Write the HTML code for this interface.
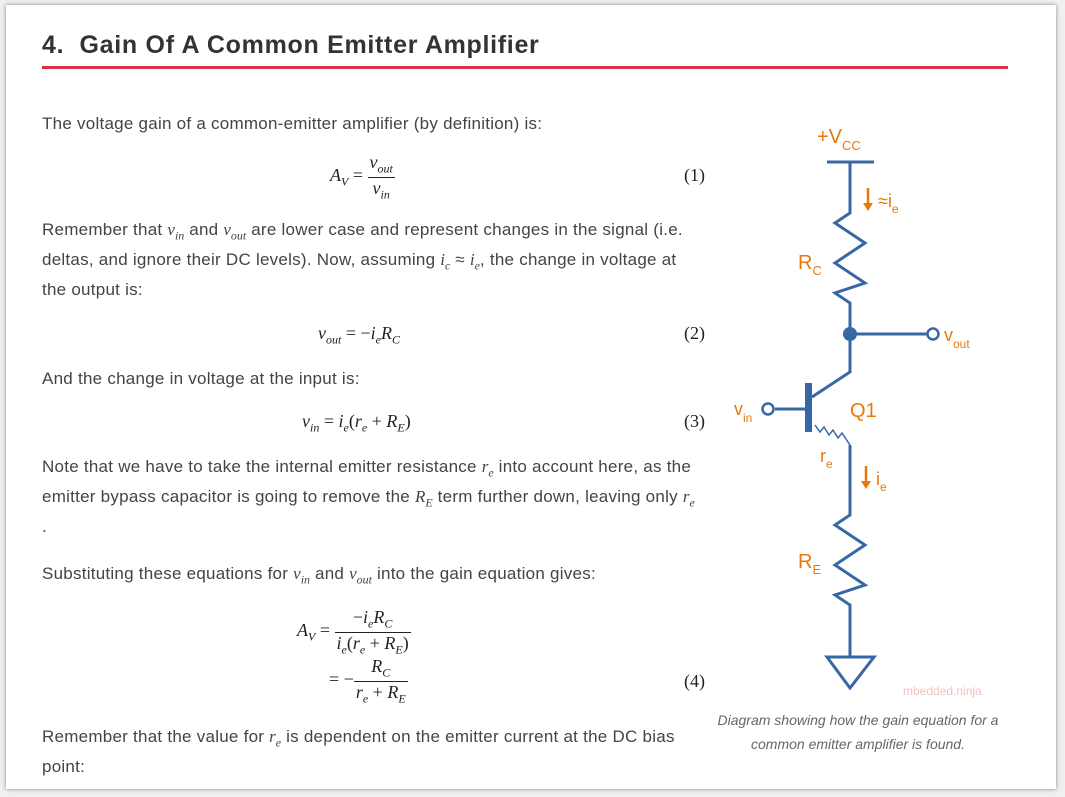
<!DOCTYPE html>
<html><head><meta charset="utf-8"><style>
body{margin:0;width:1065px;height:797px;background:#f0f0f0;position:relative;overflow:hidden;font-family:"Liberation Sans",sans-serif}
.card{position:absolute;left:6px;top:5px;width:1050px;height:784px;background:#fff;box-shadow:0 0 4px rgba(0,0,0,.45)}
.t{position:absolute;color:#444;font-size:17px;letter-spacing:.25px;line-height:28px;white-space:nowrap}
.m{font-family:"Liberation Serif",serif;font-style:italic;font-size:17px;letter-spacing:0}
.eq{position:absolute;font-family:"Liberation Serif",serif;font-size:18px;color:#222;white-space:nowrap}
.n{position:absolute;font-family:"Liberation Serif",serif;font-size:18px;color:#222}
.fr{display:inline-block;vertical-align:middle;text-align:center}
.fr span{display:block;padding:0 2px}
.fr .top{border-bottom:1px solid #222}
i{font-style:italic}
sub{font-size:12px}
</style></head><body>
<div class="card"></div>
<div style="position:absolute;left:42px;top:31px;font-size:25px;letter-spacing:.7px;font-weight:bold;color:#333">4.&nbsp; Gain Of A Common Emitter Amplifier</div>
<div style="position:absolute;left:42px;top:66px;width:966px;height:3px;background:#d6304a"></div>

<div class="t" style="left:42px;top:110px">The voltage gain of a common-emitter amplifier (by definition) is:</div>
<div class="eq" style="left:330px;top:152px"><i>A<sub>V</sub></i> = <span class="fr"><span class="top"><i>v<sub>out</sub></i></span><span><i>v<sub>in</sub></i></span></span></div>
<div class="n" style="left:684px;top:165px">(1)</div>
<div class="t" style="left:42px;top:216px">Remember that <span class="m">v<sub>in</sub></span> and <span class="m">v<sub>out</sub></span> are lower case and represent changes in the signal (i.e.</div>
<div class="t" style="left:42px;top:246px">deltas, and ignore their DC levels). Now, assuming <span class="m">i<sub>c</sub></span> ≈ <span class="m">i<sub>e</sub></span>, the change in voltage at</div>
<div class="t" style="left:42px;top:276px">the output is:</div>
<div class="eq" style="left:318px;top:323px"><i>v<sub>out</sub></i> = −<i>i<sub>e</sub>R<sub>C</sub></i></div>
<div class="n" style="left:684px;top:323px">(2)</div>
<div class="t" style="left:42px;top:365px">And the change in voltage at the input is:</div>
<div class="eq" style="left:302px;top:411px"><i>v<sub>in</sub></i> = <i>i<sub>e</sub></i>(<i>r<sub>e</sub></i> + <i>R<sub>E</sub></i>)</div>
<div class="n" style="left:684px;top:411px">(3)</div>
<div class="t" style="left:42px;top:453px">Note that we have to take the internal emitter resistance <span class="m">r<sub>e</sub></span> into account here, as the</div>
<div class="t" style="left:42px;top:483px">emitter bypass capacitor is going to remove the <span class="m">R<sub>E</sub></span> term further down, leaving only <span class="m">r<sub>e</sub></span></div>
<div class="t" style="left:42px;top:513px">.</div>
<div class="t" style="left:42px;top:560px">Substituting these equations for <span class="m">v<sub>in</sub></span> and <span class="m">v<sub>out</sub></span> into the gain equation gives:</div>
<div class="eq" style="left:297px;top:607px"><i>A<sub>V</sub></i> = <span class="fr"><span class="top">−<i>i<sub>e</sub>R<sub>C</sub></i></span><span><i>i<sub>e</sub></i>(<i>r<sub>e</sub></i> + <i>R<sub>E</sub></i>)</span></span></div>
<div class="eq" style="left:329px;top:656px">= −<span class="fr"><span class="top"><i>R<sub>C</sub></i></span><span><i>r<sub>e</sub></i> + <i>R<sub>E</sub></i></span></span></div>
<div class="n" style="left:684px;top:671px">(4)</div>
<div class="t" style="left:42px;top:723px">Remember that the value for <span class="m">r<sub>e</sub></span> is dependent on the emitter current at the DC bias</div>
<div class="t" style="left:42px;top:753px">point:</div>

<svg style="position:absolute;left:0;top:0" width="1065" height="797">
<g stroke="#3867a6" stroke-width="3" fill="none">
<line x1="827" y1="162" x2="874" y2="162"/>
<polyline points="850,162 850,213 835,223 865,243 835,263 865,283 835,293 850,303 850,372 812,397"/>
<line x1="850" y1="334" x2="927" y2="334"/>
<line x1="775" y1="409" x2="808" y2="409"/>
<polyline points="850,445 850,515 835,525 865,545 835,565 865,585 835,595 850,605 850,657"/>
<polygon points="827,657 874,657 850,688"/>
</g>
<polyline points="815,425 820,432 824,427 829,435 833,430 838,438 842,433 850,445" stroke="#3867a6" stroke-width="1.5" fill="none"/>
<rect x="805" y="383" width="7" height="49" fill="#3867a6"/>
<circle cx="850" cy="334" r="7" fill="#3867a6"/>
<circle cx="933" cy="334" r="5.5" fill="#fff" stroke="#3867a6" stroke-width="2.5"/>
<circle cx="768" cy="409" r="5.5" fill="#fff" stroke="#3867a6" stroke-width="2.5"/>
<g stroke="#e8780c" stroke-width="2.5"><line x1="868" y1="188" x2="868" y2="204"/><line x1="866" y1="466" x2="866" y2="482"/></g>
<polygon points="863,203 873,203 868,211" fill="#e8780c"/>
<polygon points="861,481 871,481 866,489" fill="#e8780c"/>
<g fill="#e8780c" font-family="Liberation Sans,sans-serif">
<text x="817" y="143" font-size="20">+V<tspan font-size="13" dy="7">CC</tspan></text>
<text x="878" y="207" font-size="18">≈i<tspan font-size="12" dy="6">e</tspan></text>
<text x="798" y="269" font-size="20">R<tspan font-size="13" dy="6">C</tspan></text>
<text x="944" y="341" font-size="18">v<tspan font-size="12" dy="7">out</tspan></text>
<text x="734" y="415" font-size="18">v<tspan font-size="12" dy="7">in</tspan></text>
<text x="850" y="417" font-size="20">Q1</text>
<text x="820" y="462" font-size="18">r<tspan font-size="12" dy="6">e</tspan></text>
<text x="876" y="485" font-size="18">i<tspan font-size="12" dy="6">e</tspan></text>
<text x="798" y="568" font-size="20">R<tspan font-size="13" dy="6">E</tspan></text>
</g>
<text x="903" y="695" font-size="12" fill="#f4c0c0" font-family="Liberation Sans,sans-serif">mbedded.ninja</text>
</svg>
<div style="position:absolute;left:704px;top:708px;width:308px;text-align:center;font-size:14px;line-height:24px;font-style:italic;color:#666">Diagram showing how the gain equation for a common emitter amplifier is found.</div>
</body></html>
